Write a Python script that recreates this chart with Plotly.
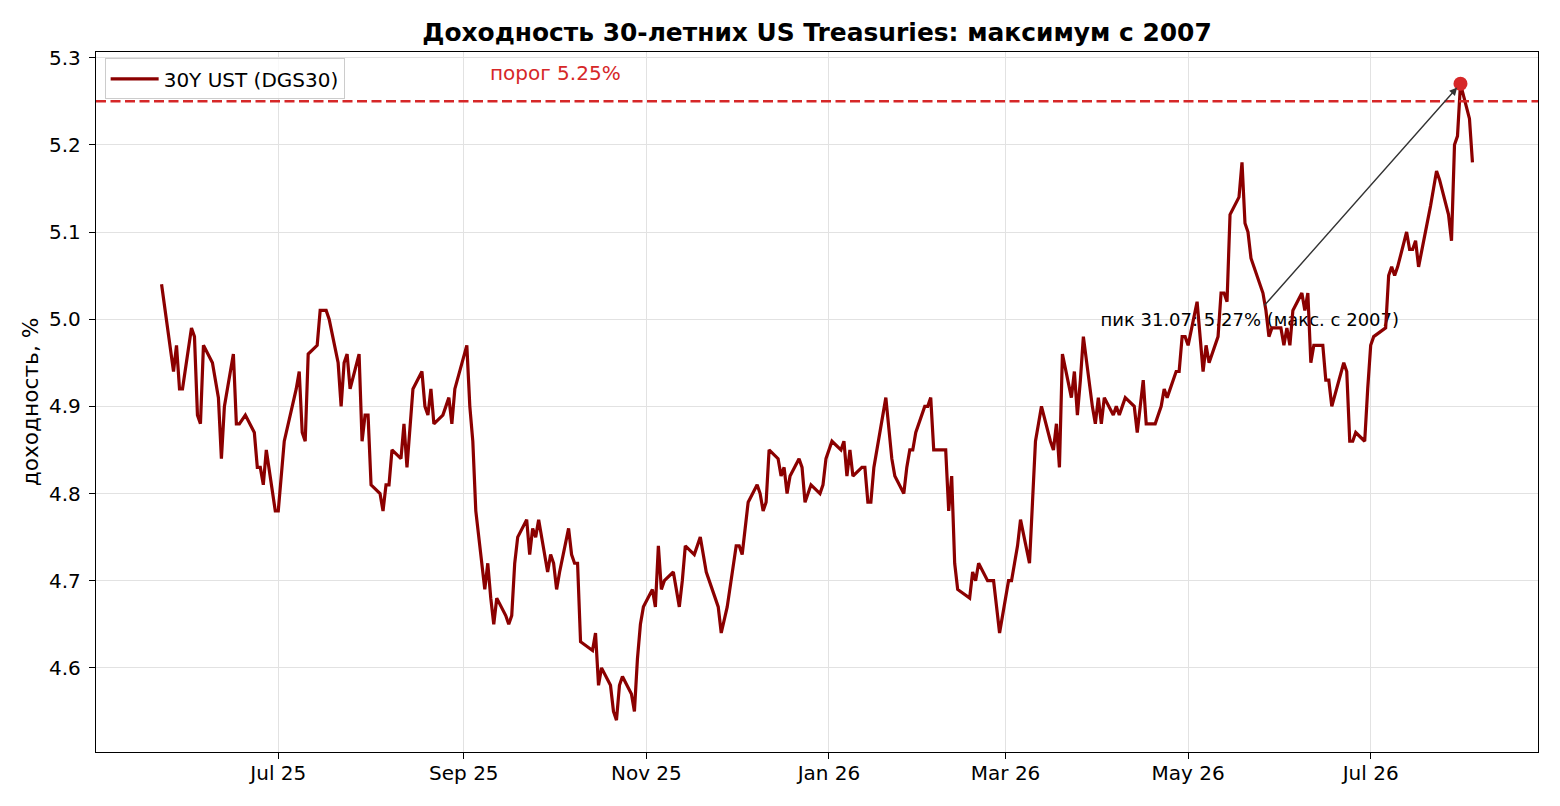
import plotly.graph_objects as go

# 30Y UST daily yields (FRED DGS30)
dates = [
    "2025-05-23", "2025-05-27", "2025-05-28", "2025-05-29", "2025-05-30",
    "2025-06-02", "2025-06-03", "2025-06-04", "2025-06-05", "2025-06-06", "2025-06-09", "2025-06-10",
    "2025-06-11", "2025-06-12", "2025-06-13", "2025-06-16", "2025-06-17", "2025-06-18", "2025-06-20",
    "2025-06-23", "2025-06-24", "2025-06-25", "2025-06-26", "2025-06-27", "2025-06-30",
    "2025-07-01", "2025-07-02", "2025-07-03", "2025-07-07", "2025-07-08", "2025-07-09", "2025-07-10",
    "2025-07-11", "2025-07-14", "2025-07-15", "2025-07-16", "2025-07-17", "2025-07-18", "2025-07-21",
    "2025-07-22", "2025-07-23", "2025-07-24", "2025-07-25", "2025-07-28", "2025-07-29", "2025-07-30",
    "2025-07-31",
    "2025-08-01", "2025-08-04", "2025-08-05", "2025-08-06", "2025-08-07", "2025-08-08", "2025-08-11",
    "2025-08-12", "2025-08-13", "2025-08-14", "2025-08-15", "2025-08-18", "2025-08-19", "2025-08-20",
    "2025-08-21", "2025-08-22", "2025-08-25", "2025-08-26", "2025-08-27", "2025-08-28", "2025-08-29",
    "2025-09-02", "2025-09-03", "2025-09-04", "2025-09-05", "2025-09-08", "2025-09-09", "2025-09-10",
    "2025-09-11", "2025-09-12", "2025-09-15", "2025-09-16", "2025-09-17", "2025-09-18", "2025-09-19",
    "2025-09-22", "2025-09-23", "2025-09-24", "2025-09-25", "2025-09-26", "2025-09-29", "2025-09-30",
    "2025-10-01", "2025-10-02", "2025-10-03", "2025-10-06", "2025-10-07", "2025-10-08", "2025-10-09",
    "2025-10-10", "2025-10-14", "2025-10-15", "2025-10-16", "2025-10-17", "2025-10-20", "2025-10-21",
    "2025-10-22", "2025-10-23", "2025-10-24", "2025-10-27", "2025-10-28", "2025-10-29", "2025-10-30",
    "2025-10-31",
    "2025-11-03", "2025-11-04", "2025-11-05", "2025-11-06", "2025-11-07", "2025-11-10", "2025-11-12",
    "2025-11-13", "2025-11-14", "2025-11-17", "2025-11-18", "2025-11-19", "2025-11-20", "2025-11-21",
    "2025-11-24", "2025-11-25", "2025-11-26", "2025-11-28",
    "2025-12-01", "2025-12-02", "2025-12-03", "2025-12-04", "2025-12-05", "2025-12-08", "2025-12-09",
    "2025-12-10", "2025-12-11", "2025-12-12", "2025-12-15", "2025-12-16", "2025-12-17", "2025-12-18",
    "2025-12-19", "2025-12-22", "2025-12-23", "2025-12-24", "2025-12-26", "2025-12-29", "2025-12-30",
    "2025-12-31",
    "2026-01-02", "2026-01-05", "2026-01-06", "2026-01-07", "2026-01-08", "2026-01-09", "2026-01-12",
    "2026-01-13", "2026-01-14", "2026-01-15", "2026-01-16", "2026-01-20", "2026-01-21", "2026-01-22",
    "2026-01-23", "2026-01-26", "2026-01-27", "2026-01-28", "2026-01-29", "2026-01-30",
    "2026-02-02", "2026-02-03", "2026-02-04", "2026-02-05", "2026-02-06", "2026-02-09", "2026-02-10",
    "2026-02-11", "2026-02-12", "2026-02-13", "2026-02-17", "2026-02-18", "2026-02-19", "2026-02-20",
    "2026-02-23", "2026-02-24", "2026-02-25", "2026-02-26", "2026-02-27",
    "2026-03-02", "2026-03-03", "2026-03-04", "2026-03-05", "2026-03-06", "2026-03-09", "2026-03-10",
    "2026-03-11", "2026-03-12", "2026-03-13", "2026-03-16", "2026-03-17", "2026-03-18", "2026-03-19",
    "2026-03-20", "2026-03-23", "2026-03-24", "2026-03-25", "2026-03-26", "2026-03-27", "2026-03-30",
    "2026-03-31",
    "2026-04-01", "2026-04-02", "2026-04-03", "2026-04-06", "2026-04-07", "2026-04-08", "2026-04-09",
    "2026-04-10", "2026-04-13", "2026-04-14", "2026-04-15", "2026-04-16", "2026-04-17", "2026-04-20",
    "2026-04-21", "2026-04-22", "2026-04-23", "2026-04-24", "2026-04-27", "2026-04-28", "2026-04-29",
    "2026-04-30",
    "2026-05-01", "2026-05-04", "2026-05-05", "2026-05-06", "2026-05-07", "2026-05-08", "2026-05-11",
    "2026-05-12", "2026-05-13", "2026-05-14", "2026-05-15", "2026-05-18", "2026-05-19", "2026-05-20",
    "2026-05-21", "2026-05-22", "2026-05-26", "2026-05-27", "2026-05-28", "2026-05-29",
    "2026-06-01", "2026-06-02", "2026-06-03", "2026-06-04", "2026-06-05", "2026-06-08", "2026-06-09",
    "2026-06-10", "2026-06-11", "2026-06-12", "2026-06-15", "2026-06-16", "2026-06-17", "2026-06-18",
    "2026-06-22", "2026-06-23", "2026-06-24", "2026-06-25", "2026-06-26", "2026-06-29", "2026-06-30",
    "2026-07-01", "2026-07-02", "2026-07-06", "2026-07-07", "2026-07-08", "2026-07-09", "2026-07-10",
    "2026-07-13", "2026-07-14", "2026-07-15", "2026-07-16", "2026-07-17", "2026-07-20", "2026-07-21",
    "2026-07-22", "2026-07-23", "2026-07-24", "2026-07-27", "2026-07-28", "2026-07-29", "2026-07-30",
    "2026-07-31",
    "2026-08-03", "2026-08-04",
]
yields = [
    5.04, 4.94, 4.97, 4.92, 4.92,
    4.99, 4.98, 4.89, 4.88, 4.97, 4.95, 4.93,
    4.91, 4.84, 4.90, 4.96, 4.88, 4.88, 4.89,
    4.87, 4.83, 4.83, 4.81, 4.85, 4.78,
    4.78, 4.82, 4.86, 4.92, 4.94, 4.87, 4.86,
    4.96, 4.97, 5.01, 5.01, 5.01, 5.00, 4.95,
    4.90, 4.95, 4.96, 4.92, 4.96, 4.86, 4.89,
    4.89,
    4.81, 4.80, 4.78, 4.81, 4.81, 4.85, 4.84,
    4.88, 4.83, 4.88, 4.92, 4.94, 4.90, 4.89,
    4.92, 4.88, 4.89, 4.90, 4.91, 4.88, 4.92,
    4.97, 4.90, 4.86, 4.78, 4.69, 4.72, 4.68,
    4.65, 4.68, 4.66, 4.65, 4.66, 4.72, 4.75,
    4.77, 4.73, 4.76, 4.75, 4.77, 4.71, 4.73,
    4.72, 4.69, 4.71, 4.76, 4.73, 4.72, 4.72,
    4.63, 4.62, 4.64, 4.58, 4.60, 4.58, 4.55,
    4.54, 4.58, 4.59, 4.57, 4.55, 4.61, 4.65,
    4.67,
    4.69, 4.67, 4.74, 4.69, 4.70, 4.71, 4.67,
    4.70, 4.74, 4.73, 4.74, 4.75, 4.73, 4.71,
    4.68, 4.67, 4.64, 4.67,
    4.74, 4.74, 4.73, 4.76, 4.79, 4.81, 4.80,
    4.78, 4.79, 4.85, 4.84, 4.82, 4.83, 4.80,
    4.82, 4.84, 4.83, 4.79, 4.81, 4.80, 4.81,
    4.84,
    4.86, 4.85, 4.86, 4.82, 4.85, 4.82, 4.83,
    4.83, 4.79, 4.79, 4.83, 4.91, 4.87, 4.84,
    4.82, 4.80, 4.83, 4.85, 4.85, 4.87,
    4.90, 4.90, 4.91, 4.85, 4.85, 4.85, 4.78,
    4.82, 4.72, 4.69, 4.68, 4.71, 4.70, 4.72,
    4.70, 4.70, 4.70, 4.67, 4.64,
    4.70, 4.70, 4.72, 4.74, 4.77, 4.72, 4.79,
    4.86, 4.88, 4.90, 4.86, 4.85, 4.88, 4.83,
    4.96, 4.91, 4.94, 4.89, 4.93, 4.98, 4.90,
    4.88,
    4.91, 4.88, 4.91, 4.89, 4.90, 4.89, 4.90,
    4.91, 4.90, 4.87, 4.90, 4.93, 4.88, 4.88,
    4.89, 4.90, 4.92, 4.91, 4.94, 4.94, 4.98,
    4.98,
    4.97, 5.02, 4.98, 4.94, 4.97, 4.95, 4.98,
    5.03, 5.03, 5.02, 5.12, 5.14, 5.18, 5.11,
    5.10, 5.07, 5.03, 5.01, 4.98, 4.99,
    4.99, 4.97, 4.99, 4.97, 5.01, 5.03, 5.01,
    5.03, 4.95, 4.97, 4.97, 4.93, 4.93, 4.90,
    4.95, 4.94, 4.86, 4.86, 4.87, 4.86, 4.92,
    4.97, 4.98, 4.99, 5.05, 5.06, 5.05, 5.06,
    5.10, 5.08, 5.08, 5.09, 5.06, 5.11, 5.13,
    5.15, 5.17, 5.16, 5.12, 5.09, 5.20, 5.21,
    5.27,
    5.23, 5.18,
]

peak_date = "2026-07-31"
peak_value = 5.27
threshold = 5.25

x_tick_dates = ["2025-07-01", "2025-09-01", "2025-11-01", "2026-01-01",
                "2026-03-01", "2026-05-01", "2026-07-01"]
x_tick_labels = ["Jul 25", "Sep 25", "Nov 25", "Jan 26", "Mar 26", "May 26", "Jul 26"]
y_ticks = [4.6, 4.7, 4.8, 4.9, 5.0, 5.1, 5.2, 5.3]
y_tick_labels = ["4.6", "4.7", "4.8", "4.9", "5.0", "5.1", "5.2", "5.3"]

FONT = "DejaVu Sans"
RED = "#d62728"

fig = go.Figure()
# annotation text goes first so the yield line is drawn over it
fig.add_trace(go.Scatter(x=["2026-05-21 14:00"], y=[4.9976], mode="text",
                         text=["пик 31.07: 5.27% (макс. с 2007)"], textposition="middle center",
                         textfont=dict(family=FONT, size=18, color="black"),
                         showlegend=False, hoverinfo="skip"))
fig.add_trace(go.Scatter(x=dates, y=yields, mode="lines", name="30Y UST (DGS30)",
                         line=dict(color="#8b0000", width=3.2)))
fig.add_trace(go.Scatter(x=[peak_date], y=[peak_value], mode="markers", showlegend=False,
                         marker=dict(color=RED, size=14)))

fig.add_shape(type="line", xref="paper", x0=0, x1=1, yref="y", y0=threshold, y1=threshold,
              line=dict(color=RED, width=2.6, dash="10px,4.5px"))

fig.add_annotation(x="2025-10-01 12:00", y=5.2828, text="порог 5.25%", showarrow=False,
                   font=dict(family=FONT, size=20, color=RED))
fig.add_annotation(x=peak_date, y=peak_value, ax="2026-05-26 00:00", ay=5.0139,
                   axref="x", ayref="y", text="",
                   showarrow=True, arrowhead=2, arrowsize=1.1, arrowwidth=1.4,
                   arrowcolor="#333333", standoff=5)

fig.update_layout(
    width=1544, height=790,
    margin=dict(l=88, r=14, t=44, b=46),
    paper_bgcolor="white", plot_bgcolor="white",
    font=dict(family=FONT, size=20, color="black"),
    title=dict(text="Доходность 30-летних US Treasuries: максимум с 2007",
               x=0.5, xref="paper", xanchor="center",
               y=1 - 24 / 790, yref="container", yanchor="middle",
               font=dict(family=FONT, size=24.9, color="black", weight="bold")),
    legend=dict(x=0.006, y=0.991, xanchor="left", yanchor="top",
                bgcolor="rgba(255,255,255,0.8)", bordercolor="#cccccc", borderwidth=1,
                itemwidth=48, font=dict(family=FONT, size=20)),
    showlegend=True,
)
fig.update_xaxes(range=["2025-05-01 02:24", "2026-08-25 21:36"],
                 tickvals=x_tick_dates, ticktext=x_tick_labels,
                 tickfont=dict(family=FONT, size=20), automargin=False,
                 showgrid=True, gridcolor="#e2e2e2", gridwidth=1,
                 showline=True, linecolor="black", linewidth=1.4, mirror=True,
                 ticks="outside", ticklen=6, tickwidth=1.4, tickcolor="black",
                 ticklabelstandoff=-3, zeroline=False)
fig.update_yaxes(range=[4.5035, 5.3065], tickvals=y_ticks, ticktext=y_tick_labels,
                 tickfont=dict(family=FONT, size=20), automargin=False,
                 title=dict(text="доходность, %", standoff=4, font=dict(family=FONT, size=21.7)),
                 showgrid=True, gridcolor="#e2e2e2", gridwidth=1,
                 showline=True, linecolor="black", linewidth=1.4, mirror=True,
                 ticks="outside", ticklen=6, tickwidth=1.4, tickcolor="black",
                 ticklabelstandoff=4, zeroline=False)

fig.write_html("out.html")
